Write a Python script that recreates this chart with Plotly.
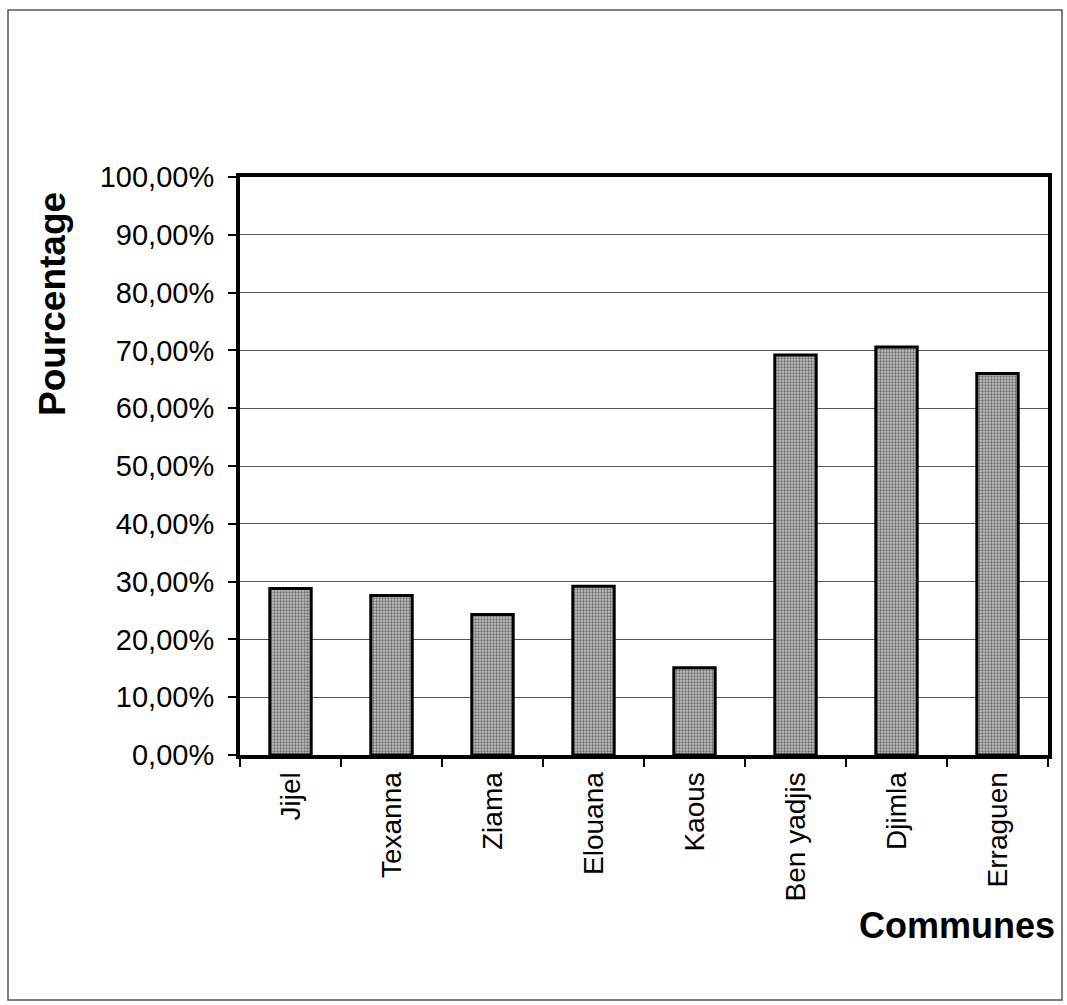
import plotly.graph_objects as go

# Share of each commune (fraction of 1)
communes = ["Jijel", "Texanna", "Ziama", "Elouana", "Kaous", "Ben yadjis", "Djimla", "Erraguen"]
pourcentages = [0.288, 0.276, 0.243, 0.292, 0.151, 0.692, 0.706, 0.660]
y_ticks = [i / 10 for i in range(11)]

FONT = "Liberation Sans, Arial, sans-serif"

# Plot-area geometry in pixels (used for paper-relative decorations)
W, H = 1067, 1005
M_L, M_R, M_T, M_B = 240, 19, 177, 250
PW, PH = W - M_L - M_R, H - M_T - M_B


def px_x(x):
    return (x - M_L) / PW


def px_y(y):
    return (H - M_B - y) / PH


fig = go.Figure(
    go.Bar(
        x=communes,
        y=pourcentages,
        marker=dict(
            color="#bdbdbd",
            line=dict(color="black", width=3),
            pattern=dict(shape=".", bgcolor="#c2c2c2", fgcolor="#6a6a6a",
                         size=3, solidity=0.45, fillmode="replace"),
        ),
        hoverinfo="x+y",
    )
)

fig.update_layout(
    width=W,
    height=H,
    margin=dict(l=M_L, r=M_R, t=M_T, b=M_B, pad=0),
    paper_bgcolor="white",
    plot_bgcolor="white",
    separators=", ",
    bargap=0.59,
    showlegend=False,
    font=dict(family=FONT, color="black"),
)

fig.update_yaxes(
    range=[0, 1],
    tickvals=y_ticks,
    tickformat=".2%",
    tickfont=dict(size=29, family=FONT, color="black"),
    ticks="outside",
    ticklen=8,
    tickwidth=1.5,
    tickcolor="black",
    ticklabelstandoff=8,
    showgrid=True,
    gridcolor="#555555",
    gridwidth=1,
    showline=True,
    linecolor="black",
    linewidth=4,
    mirror=True,
    zeroline=False,
)

fig.update_xaxes(
    tickangle=-90,
    tickfont=dict(size=28, family=FONT, color="black"),
    ticks="outside",
    tickson="boundaries",
    ticklen=8,
    tickwidth=1.5,
    tickcolor="black",
    ticklabelstandoff=2,
    showgrid=False,
    showline=True,
    linecolor="black",
    linewidth=4,
    mirror=True,
)

fig.add_annotation(
    text="<b>Pourcentage</b>",
    xref="paper", yref="paper",
    x=px_x(52), y=px_y(304),
    xanchor="center", yanchor="middle",
    textangle=-90,
    showarrow=False,
    font=dict(size=37, family=FONT, color="black"),
)

fig.add_annotation(
    text="<b>Communes</b>",
    xref="paper", yref="paper",
    x=px_x(1057), y=px_y(925),
    xanchor="right", yanchor="middle",
    showarrow=False,
    font=dict(size=36, family=FONT, color="black"),
)

# Thin frame around the whole chart
fig.add_shape(
    type="rect",
    xref="paper", yref="paper",
    x0=px_x(8), x1=px_x(1062),
    y0=px_y(1000), y1=px_y(10),
    line=dict(color="#555555", width=1.5),
    fillcolor="rgba(0,0,0,0)",
    layer="below",
)

fig.write_html("out.html")
